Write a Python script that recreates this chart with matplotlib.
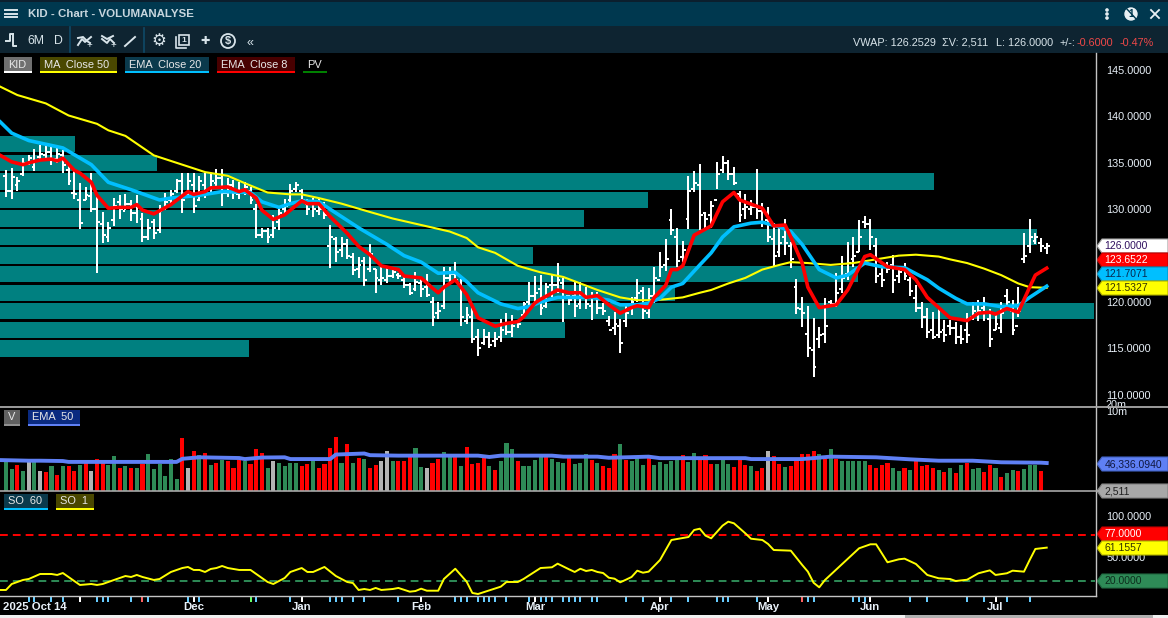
import numpy as np
import matplotlib
matplotlib.use("Agg")
import matplotlib.pyplot as plt
from matplotlib.patches import Rectangle, Polygon, Circle
from matplotlib.ticker import NullLocator, NullFormatter

plt.rcParams['font.family'] = ['Liberation Sans', 'DejaVu Sans']

W, H = 1168, 618

highs = [134.2,134.4,133.5,135.5,135.8,136.5,136.9,136.9,136.7,136.6,
136.4,134.8,134.2,132.8,132.4,133.9,131.8,129.7,128.6,131.2,
131.5,131.6,131.0,131.5,129.6,129.0,129.0,130.5,131.8,132.1,
133.3,133.9,133.9,133.9,133.6,133.9,133.9,134.3,134.3,133.4,
133.2,132.9,132.9,132.4,130.6,128.0,128.0,129.4,130.1,131.1,
132.7,132.9,132.2,131.1,131.2,131.2,130.8,128.3,127.0,127.0,
126.8,125.3,124.8,124.8,126.2,123.6,123.8,123.8,123.5,123.1,
122.8,122.0,123.2,122.6,123.0,120.5,120.0,123.8,123.8,124.3,
122.5,119.5,119.5,117.1,117.1,116.8,116.8,118.2,118.8,118.6,
118.1,120.0,122.2,122.8,122.9,122.0,122.9,124.2,122.6,120.8,
122.2,122.2,121.6,121.1,121.1,119.9,118.5,118.9,118.2,119.7,
120.5,122.5,121.6,121.5,123.8,125.4,126.8,130.0,128.0,126.6,
133.6,134.1,134.9,129.7,130.9,135.1,135.7,135.3,134.6,132.0,
131.6,131.0,134.3,130.7,130.2,128.5,128.1,129.0,126.5,122.5,
120.5,119.6,118.3,117.3,120.4,120.2,123.1,125.0,126.5,127.0,
128.8,129.3,128.9,126.9,123.7,124.3,125.1,123.8,124.2,122.7,
121.8,120.0,119.4,118.9,119.4,118.1,118.1,117.9,117.5,118.8,
120.0,120.2,120.5,119.2,118.8,120.0,121.4,120.2,121.6,127.4,
128.9,127.4,126.9,126.4]
lows = [131.3,131.1,132.0,133.6,134.8,134.1,135.3,135.5,134.8,135.0,
133.9,132.6,131.1,127.9,131.0,129.7,123.1,126.4,126.5,128.2,
129.0,129.9,128.7,128.5,126.5,126.7,126.8,127.4,129.9,130.5,
131.8,129.6,131.3,129.6,130.9,131.2,131.8,132.3,130.4,131.3,
131.1,131.1,131.5,130.6,126.9,126.9,126.4,126.9,127.8,129.6,
130.7,131.9,130.8,129.4,129.2,129.4,129.0,123.7,124.3,124.8,
124.6,122.9,122.6,121.7,123.2,121.0,121.8,122.0,122.6,122.5,
121.5,120.8,121.2,120.5,120.5,117.4,118.2,119.2,122.2,122.2,
117.4,117.6,115.6,114.2,115.4,115.0,115.2,115.7,116.5,116.2,
117.2,118.4,119.4,119.9,118.6,119.4,120.5,121.0,117.9,119.7,
118.4,119.3,119.2,118.1,118.7,118.6,117.4,116.5,114.5,117.3,
118.6,120.0,118.2,118.3,119.9,122.7,123.3,127.2,123.8,124.3,
127.9,131.9,127.8,127.8,128.0,132.2,133.9,133.2,132.6,128.6,
129.0,129.4,129.0,128.1,126.5,123.9,124.9,125.1,123.7,118.7,
117.3,114.1,111.9,115.0,115.6,119.5,119.5,121.0,122.4,123.8,
125.4,128.0,125.6,122.0,121.6,123.1,121.0,122.0,122.4,120.7,
118.9,117.2,116.1,116.0,116.1,115.7,116.5,115.5,115.5,115.6,
118.1,118.0,118.0,115.2,117.0,116.7,119.7,116.5,118.4,124.2,
125.3,126.2,125.4,125.2]
closes = [132.0,133.5,133.0,135.0,135.5,135.2,136.0,136.2,135.4,136.0,
134.8,133.0,131.6,128.5,131.5,130.0,128.6,127.2,128.0,130.4,
130.0,130.6,129.6,130.2,127.0,128.0,127.4,129.8,130.8,131.6,
133.0,131.0,133.0,130.4,133.0,132.0,133.0,133.4,131.8,132.6,
131.8,132.0,132.4,131.0,127.2,127.6,127.0,128.0,129.6,130.4,
132.0,132.6,131.0,130.0,130.0,130.0,129.4,127.0,125.4,126.2,
125.0,123.4,124.0,122.4,125.2,122.6,122.6,122.8,123.2,122.8,
121.8,121.0,122.2,121.4,120.8,118.4,119.0,122.6,123.0,122.4,
118.4,118.6,116.0,115.0,116.2,115.4,116.0,117.0,116.8,117.4,
117.6,119.8,120.6,121.0,119.4,121.6,121.8,122.4,120.4,120.2,
119.6,120.8,119.8,120.4,119.4,119.0,117.0,117.6,115.6,118.8,
120.0,121.0,119.0,120.6,122.6,123.8,124.6,127.8,124.4,125.6,
132.0,132.8,129.4,129.0,130.4,133.8,135.0,133.8,132.8,129.4,
130.2,130.2,129.8,128.6,127.0,125.0,126.4,126.4,124.6,119.4,
118.8,115.0,113.0,116.4,117.4,119.8,121.0,122.6,124.2,125.0,
127.0,128.4,127.0,122.8,122.4,123.6,122.4,123.2,122.8,121.2,
119.4,118.4,116.8,116.2,116.8,116.4,117.2,116.2,116.0,116.4,
119.0,119.0,118.8,116.0,117.6,118.8,120.0,117.0,119.0,125.0,
127.0,127.0,126.0,126.0]
opens = [133.6,132.0,132.6,133.8,135.0,134.6,135.6,135.8,136.2,135.4,
135.8,134.2,131.8,131.0,131.0,131.4,130.0,128.4,127.0,128.8,
130.8,129.8,130.6,129.6,129.0,127.0,128.6,127.8,130.0,131.0,
132.0,133.0,131.6,132.6,131.0,132.6,132.2,132.8,133.4,131.8,
132.6,131.6,132.0,132.0,130.0,127.2,127.6,127.2,128.6,130.0,
131.0,132.2,132.0,130.6,130.6,129.8,130.4,126.0,126.8,125.6,
126.2,124.8,123.6,124.4,123.6,123.6,122.4,122.4,122.8,122.9,
122.4,121.8,121.4,122.0,121.6,120.0,118.8,119.6,122.6,123.0,
121.8,118.0,118.4,116.2,115.6,116.2,115.8,116.2,117.6,116.8,
117.8,118.6,120.0,120.6,121.4,119.6,121.8,121.8,122.0,120.6,
120.6,119.8,120.8,119.6,120.4,119.4,118.0,117.2,117.4,118.0,
119.2,120.4,121.2,118.8,120.6,122.4,124.0,128.8,127.0,124.8,
129.0,132.2,132.6,129.6,129.4,131.0,134.2,135.0,133.8,131.6,
130.0,130.0,130.2,129.8,128.8,126.8,125.4,127.0,126.0,121.6,
119.2,116.6,114.8,116.0,116.6,120.0,119.8,121.4,123.0,124.6,
125.4,128.6,128.4,126.0,123.0,124.0,124.0,122.8,123.6,122.4,
120.4,119.4,118.4,117.0,116.4,117.0,117.4,117.2,116.2,117.0,
118.4,118.8,119.4,118.2,117.0,117.2,120.6,119.0,117.4,124.6,
126.0,126.6,126.4,125.8]

ma50_idx = [-1,2,7,11,16,18,21,26,30,35,39,42,46,50,52,55,59,64,68,73,78,81,83,86,90,94,98,101,104,108,111,114,116,119,122,124,127,130,133,136,138,141,145,149,152,157,160,164,166,169,172,175,178,180,183]
ma50_val = [143.2,142.3,141.4,140.1,139.2,138.5,137.9,135.8,135.0,134.0,133.6,132.8,131.8,131.6,131.6,131.2,130.6,129.7,129.0,128.3,127.6,126.9,125.9,125.3,123.9,123.2,122.7,122.0,121.3,120.5,120.2,120.2,120.3,120.5,121.0,121.3,122.0,122.6,123.5,124.0,124.3,124.2,124.0,124.2,124.5,125.0,125.1,124.9,124.6,124.2,123.6,122.9,122.0,121.6,121.5327]

ema20_idx = [-1,1,4,10,15,18,22,27,29,34,38,43,45,48,50,52,55,58,62,67,70,73,76,79,81,83,85,87,90,92,94,97,100,103,106,108,111,113,115,117,119,122,124,126,128,131,133,136,138,140,143,146,148,151,154,158,162,164,167,169,172,175,178,180,183]
ema20_val = [139.4,138.2,137.4,136.6,134.8,132.9,132.1,131.0,131.2,131.5,131.9,131.8,130.8,130.2,130.6,130.9,130.8,129.6,128.0,126.2,125.0,124.3,123.1,123.2,122.2,121.0,120.4,119.8,119.3,119.5,120.0,120.5,120.5,120.5,120.2,119.7,119.7,119.9,120.4,121.6,122.0,124.0,125.3,127.0,128.1,128.5,128.6,128.1,127.6,126.2,123.5,122.6,122.9,124.2,123.8,123.7,122.4,121.5,120.4,119.8,119.8,119.5,119.6,120.5,121.7071]

ema8_idx = [-1,1,3,4,6,8,9,10,12,13,15,16,18,20,22,23,24,26,29,32,33,35,36,39,41,42,44,45,47,49,52,53,55,57,60,62,64,66,69,70,73,75,76,77,79,81,83,86,88,90,91,93,94,97,99,101,102,104,106,108,110,111,113,114,116,117,118,119,121,124,126,128,129,133,135,137,138,140,141,143,146,148,150,151,152,155,158,160,162,164,166,169,171,173,174,176,178,180,181,183]
ema8_val = [135.8,135.1,134.8,135.0,135.3,135.4,135.2,135.5,134.2,133.9,132.9,131.5,130.1,130.2,130.2,130.5,129.9,129.5,130.5,131.9,131.6,131.9,132.3,132.4,131.9,132.1,131.2,129.9,128.9,129.4,130.9,130.6,130.6,129.2,127.4,126.0,125.1,123.9,123.5,122.8,122.6,121.5,121.0,121.6,122.4,120.8,118.3,117.4,117.7,117.9,118.4,119.9,120.3,121.3,121.0,121.0,120.5,120.7,119.7,118.8,119.4,119.6,119.4,120.5,121.8,123.5,123.5,123.9,127.2,128.2,130.8,131.8,131.0,130.1,128.2,128.3,127.0,124.2,121.6,119.4,119.7,121.3,123.7,124.9,125.1,123.8,123.5,122.4,120.5,119.4,118.3,118.0,118.8,118.9,118.7,119.3,118.9,121.6,122.9,123.6522]

pv_price = [137,135,133,131,129,127,125,123,121,119,117,115]
pv_volume = [75,157,934,648,584,1037,533,858,675,1094,565,249]

volume_k = [58,25,38,20,52,50,20,18,34,13,
34,34,20,38,63,20,70,50,38,96,
27,34,27,27,42,118,25,42,12,70,
9,620,27,162,107,130,38,48,63,60,
28,63,58,40,200,131,27,58,48,34,
48,48,34,44,58,28,40,220,690,48,
350,48,75,68,27,38,55,162,58,55,
57,87,220,30,28,46,70,145,95,85,
34,240,42,46,78,34,22,57,370,200,
57,34,34,62,85,85,70,50,46,78,
42,46,118,62,46,34,28,118,320,62,
57,78,37,78,37,50,42,57,78,105,
50,131,70,105,42,42,70,42,30,62,
37,34,20,28,162,95,42,30,34,62,118,
118,160,118,70,200,70,58,55,58,58,
55,38,28,38,46,28,20,27,22,55,
34,38,28,22,18,28,16,38,46,25,
27,18,38,28,11,16,22,20,25,38,
38,20,2.511]
volume_dir = ("ggrgagargr" "grrgrarrgg" "rgrgrggggg" "grargrgrgr" "rrgrrrgagg" "ggrrgrrrrg" "rgrgrraagr"
 "rrggarrggr" "grrrrgrggg" "rggggrgggr" "gggrgrrrgr" "gggrgggggr" "ggrrrgggrr" "rgrrarrgrrr"
 "rrgrgrgggg" "grrrrggrgr" "rrrgrgrgrg" "grrgrggrgg" "grr")

vol_ema_idx = [-1,4,6,10,11,30,31,34,41,42,45,49,50,57,58,63,64,69,83,85,87,96,98,104,106,113,115,130,131,140,145,153,159,164,170,175,182,183]
vol_ema_k = [63,59,59,57,52,52,72,84,78,70,82,84,70,70,112,125,105,100,100,87,100,100,90,90,80,90,77,77,70,70,90,84,68,59,59,50,48,46.336]

so_idx = [-1,0,1,3,4,6,8,9,10,12,13,15,16,17,19,21,22,23,24,26,27,29,31,32,33,34,35,36,37,38,39,41,43,44,46,47,49,50,52,53,54,56,58,60,61,62,63,64,65,66,68,69,71,72,73,74,76,77,79,81,82,83,87,88,90,91,93,94,96,97,99,100,101,102,103,104,105,106,107,108,109,110,111,112,113,115,117,120,121,122,123,124,126,127,128,130,131,133,134,135,138,140,141,142,143,144,150,152,153,155,157,158,160,162,164,166,167,169,171,173,174,176,177,179,180,181,183]
so_val = [8.7,8.7,16.1,21.1,22.3,28.5,28.5,27.3,29.7,19.8,14.9,16.1,14.9,16.1,21.1,26,24.8,27.3,24.8,21.1,22.3,31,35.9,37.2,33.5,33.5,31,34.7,35.9,38.4,35.9,33.5,33.5,28.5,18.6,16.1,23.5,31,35.9,31,31,37.2,26,18.6,17.3,8.7,9.9,8.7,11.2,8.7,9.9,11.2,6.6,7.4,10.3,7.8,7.8,22.3,35,19,5,3.7,12.8,18.6,18.6,22.3,31.4,35.9,36.8,41.3,34.3,31,35,32.2,33.5,31,29.7,23.9,22.7,18.2,21.4,24.8,32.6,30.1,31.4,45.8,70.6,74.3,83,84.6,76,72.7,88.4,93.3,91.3,78.9,72.2,70.6,65.7,58.2,57.4,39.7,31.4,17.7,12,21,60.3,65.3,65.3,43,46.7,47.5,40.9,27.3,23.2,22.3,19.8,21.4,29.4,33,27.3,29.4,32.6,31.4,45.8,59.5,61.1557]

month_idx = [5.1,33,52,73,93,115,134,152,174]
month_labels = ['2025 Oct 14','Dec','Jan','Feb','Mar','Apr','May','Jun','Jul']
blue_events = [4,5,8,10,16,17,18,22,25,32,34,44,50,57,58,59,61,63,69,79,80,81,83,84,85,86,88,92,93,94,95,96,98,99,100,101,103,104,109,112,117,120,125,126,127,132,134,141,142,149,150,151,159,162,169,172,176,180]
white_events = [13,33,52,73,93,115,134,152,174]
red_events = [24,140]
green_events = [43]

price_ticks = [145,140,135,130,125,120,115,110]
so_ticks = [100,50]
so_upper, so_lower = 77, 20

fig = plt.figure(figsize=(W/100, H/100), dpi=100, facecolor='black')

def px_axes(x0, y0, x1, y1, **kw):
    return fig.add_axes([x0/W, 1-y1/H, (x1-x0)/W, (y1-y0)/H], **kw)

XLIM = (-1.055, 191.49)
TXT = '#e8f0f8'
TS = 7.8

# volume profile (behind the price bars)
ax_pv = px_axes(0, 53, 1095, 406, facecolor='black')
ax_pv.set_xlim(0, 1095)
ax_pv.set_ylim(108.8, 146.83)
ax_pv.barh(pv_price, pv_volume, height=1.76, color='#008080', linewidth=0)
ax_pv.axis('off')

ax = px_axes(0, 53, 1095, 406)
ax.patch.set_alpha(0)
ax.set_xlim(*XLIM)
ax.set_ylim(108.8, 146.83)
x = np.arange(len(highs))
ax.vlines(x, lows, highs, color='white', lw=1.44, zorder=3, antialiased=False)
ax.hlines(opens, x-0.5, x, color='white', lw=1.44, zorder=3, antialiased=False)
ax.hlines(closes, x, x+0.5, color='white', lw=1.44, zorder=3, antialiased=False)
ax.plot(ma50_idx, ma50_val, color='#ffff00', lw=1.5, zorder=4, solid_joinstyle='round')
ax.plot(ema20_idx, ema20_val, color='#00bfff', lw=2.6, zorder=5, solid_joinstyle='round')
ax.plot(ema8_idx, ema8_val, color='#ff0000', lw=2.6, zorder=6, solid_joinstyle='round')
ax.set_yticks(price_ticks)
ax.set_yticklabels(['%.4f' % v for v in price_ticks])
ax.set_xticks([])
ax.yaxis.tick_right()
ax.tick_params(axis='y', length=0, pad=8, labelcolor=TXT, labelsize=TS)
for s in ax.spines.values():
    s.set_visible(False)

# volume panel (log scale)
ax_v = px_axes(0, 407, 1095, 491, facecolor='black')
ax_v.set_yscale('log')
ax_v.set_xlim(*XLIM)
ax_v.set_ylim(2511, 1.588e7)
vol = np.array(volume_k)*1000
vcol = {'r': '#ff0000', 'g': '#2e8b57', 'a': '#b4b4b4'}
ax_v.bar(x, vol-2511, bottom=2511, width=0.72, color=[vcol[c] for c in volume_dir], linewidth=0, antialiased=False)
ax_v.plot(vol_ema_idx, np.array(vol_ema_k)*1000, color='#5f80f5', lw=2.8, zorder=5)
ax_v.yaxis.tick_right()
ax_v.set_yticks([1e7])
ax_v.set_yticklabels(['10m'])
ax_v.yaxis.set_minor_locator(NullLocator())
ax_v.yaxis.set_minor_formatter(NullFormatter())
ax_v.set_xticks([])
ax_v.tick_params(axis='y', length=0, pad=8, labelcolor=TXT, labelsize=TS)
ax_v.text(1106/1095, 2e7, '20m', transform=ax_v.get_yaxis_transform(), color=TXT, fontsize=TS,
          va='center', ha='left', clip_on=False)
for s in ax_v.spines.values():
    s.set_visible(False)

# stochastic panel
ax_s = px_axes(0, 491, 1095, 596, facecolor='black')
ax_s.set_xlim(*XLIM)
ax_s.set_ylim(1.24, 131.3)
ax_s.plot(so_idx, so_val, color='#ffff00', lw=1.4, zorder=5)
ax_s.plot(XLIM, [so_upper, so_upper], color='#ff0000', lw=1.4, ls=(0, (4, 2.6)))
ax_s.plot(XLIM, [so_lower, so_lower], color='#2e8b57', lw=1.4, ls=(0, (4, 2.6)))
ax_s.yaxis.tick_right()
ax_s.set_yticks(so_ticks)
ax_s.set_yticklabels(['%.4f' % v for v in so_ticks])
ax_s.set_xticks([])
ax_s.tick_params(axis='y', length=0, pad=8, labelcolor=TXT, labelsize=TS)
for s in ax_s.spines.values():
    s.set_visible(False)

# time axis
ax_t = px_axes(0, 597, 1095, 615, facecolor='black')
ax_t.set_xlim(*XLIM)
ax_t.set_ylim(18, 0)
ax_t.vlines(blue_events, 0, 5, color='#66ccff', lw=1.4, antialiased=False)
ax_t.vlines(white_events, 0, 5, color='white', lw=1.4, antialiased=False)
ax_t.vlines(red_events, 0, 5, color='#ff6060', lw=1.4, antialiased=False)
ax_t.vlines(green_events, 0, 5, color='#66ff66', lw=1.4, antialiased=False)
ax_t.set_yticks([])
ax_t.set_xticks(month_idx)
ax_t.set_xticklabels(month_labels, fontweight='bold', fontsize=8.2, color=TXT)
ax_t.tick_params(axis='x', length=0, pad=-9.4)
for s in ax_t.spines.values():
    s.set_visible(False)

# application chrome, drawn in pixel coordinates
c = fig.add_axes([0, 0, 1, 1])
c.set_xlim(0, W); c.set_ylim(H, 0); c.axis('off'); c.patch.set_alpha(0)

def rect(x0, y0, x1, y1, col, **kw):
    c.add_patch(Rectangle((x0, y0), x1-x0, y1-y0, facecolor=col, edgecolor='none', **kw))

rect(0, 0, W, 2, '#0b1f2e')
rect(0, 2, W, 26, '#00384f')
rect(0, 26, W, 53, '#0e2431')
rect(0, 615, W, 618, '#f0f0f0')
rect(905, 615, 1153, 618, '#b0b0b0')

for yy in (10, 14, 17):
    c.plot([5, 17], [yy, yy], color='#d8e4ea', lw=1.4)
c.text(28, 14, 'KID - Chart - VOLUMANALYSE', color='#c8d6de', fontsize=8.25, fontweight='bold', va='center')

# toolbar
ic = '#d8e4ea'
c.plot([70, 70], [27, 52], color='#0f4a68', lw=1.2)
c.plot([144, 144], [28, 52], color='#0f4a68', lw=1.2)
c.plot([6, 10, 10, 13], [41, 41, 34, 34], color=ic, lw=1.4)
c.plot([13, 13, 16], [34, 46, 46], color=ic, lw=1.4)
c.text(27, 41.5, '6M', color=ic, fontsize=8.8, va='center')
c.text(54, 41.5, 'D', color=ic, fontsize=8.8, va='center')
c.plot([78, 82, 85, 91], [45, 39, 42, 37], color=ic, lw=1.4)
c.plot([78, 83, 87, 90], [38, 37, 41, 43], color=ic, lw=1.4)
c.text(89, 45, '+', color=ic, fontsize=7, va='center', ha='center')
c.plot([102, 107, 110, 114], [39, 43, 39, 43], color=ic, lw=1.4)
c.plot([102, 107, 113], [36, 39, 36], color=ic, lw=1.4)
c.text(113, 45, '+', color=ic, fontsize=7, va='center', ha='center')
c.plot([125, 135], [46, 37], color=ic, lw=1.4)
c.text(159, 41, '\u2699', color=ic, fontsize=12, va='center', ha='center', family='DejaVu Sans')
c.add_patch(Rectangle((179, 35), 10, 10, fill=False, ec=ic, lw=1.2))
c.plot([176, 176, 186], [37, 48, 48], color=ic, lw=1.2)
c.text(184, 40, '1', color=ic, fontsize=6, va='center', ha='center', fontweight='bold')
c.text(205, 41, '\u271a', color=ic, fontsize=8, va='center', ha='center', family='DejaVu Sans')
c.add_patch(Circle((228, 41), 7, fill=False, ec=ic, lw=1.3))
c.text(228, 41, '$', color=ic, fontsize=8, va='center', ha='center', fontweight='bold')
c.text(250, 43, '\u00ab', color=ic, fontsize=9, va='center', ha='center')

# window buttons
for yy in (10, 14, 18):
    c.add_patch(Circle((1107, yy), 1.1, color='#e8f0f4'))
c.add_patch(Circle((1131, 14), 6, color='#e8f0f4'))
c.text(1131, 14, '1', color='#00384f', fontsize=7, va='center', ha='center', fontweight='bold')
c.plot([1126, 1138], [8, 21], color='#00384f', lw=1)
c.plot([1151, 1159], [10, 18], color='#e8f0f4', lw=1.3)
c.plot([1159, 1151], [10, 18], color='#e8f0f4', lw=1.3)

# quote strip
for xp, s, col in [(853, 'VWAP: 126.2529', ic), (942, '\u03a3V: 2,511', ic), (996, 'L: 126.0000', ic),
                   (1059, '+/-:', ic), (1077, '-0.6000', '#f04848'), (1120, '-0.47%', '#f04848')]:
    c.text(xp, 45.5, s, color=col, fontsize=7.8, va='baseline')

# frame lines
c.plot([1095.5, 1095.5], [53, 596], color='#c4c4c4', lw=1)
c.plot([0, W], [406.5, 406.5], color='#a8a8a8', lw=1.3)
c.plot([0, 1100], [491, 491], color='#a8a8a8', lw=1.2)
c.plot([0, 1095.5], [595.8, 595.8], color='#c4c4c4', lw=1)

# legend chips
def chip(x0, x1, y0, bg, under, txt, tc='#e8e8e8', tx=None):
    if bg:
        rect(x0, y0, x1, y0+15, bg)
    rect(x0, y0+14.4, x1, y0+16.2, under)
    c.text(tx if tx else x0+4, y0+7.5, txt, color=tc, fontsize=7.9, va='center')

chip(4, 32, 57, '#707070', 'white', 'KID', tx=8)
chip(40, 117, 57, '#4a4800', '#ffff00', 'MA  Close 50', tx=44)
chip(125, 209, 57, '#0b3a4c', '#00bfff', 'EMA  Close 20', tx=129)
chip(217, 295, 57, '#480000', '#ff0000', 'EMA  Close 8', tx=221)
chip(303, 327, 57, None, '#008000', 'PV', tx=307)
chip(4, 20, 410, '#606060', '#909090', 'V', tx=8)
chip(28, 80, 410, '#0a2a80', '#5f80f5', 'EMA  50', tx=32)
chip(4, 48, 494, '#0b3a4c', '#00bfff', 'SO  60', tx=8)
chip(56, 94, 494, '#4a4800', '#ffff00', 'SO  1', tx=60)

# value flags
def flag(yc, bg, txt, tc, edge):
    h = 7
    c.add_patch(Polygon([(1097, yc), (1102, yc-h), (W, yc-h), (W, yc+h), (1102, yc+h)],
                        closed=True, facecolor=bg, edgecolor=edge, lw=0.8))
    c.text(1104.5, yc+0.3, txt, color=tc, fontsize=7.5, va='center')

flag(246, 'white', '%.4f' % closes[-1], '#301060', '#a0a0a0')
flag(260, '#ff0000', '%.4f' % ema8_val[-1], 'white', '#c00000')
flag(274, '#00bfff', '%.4f' % ema20_val[-1], '#062850', '#0090c0')
flag(288, '#ffff00', '%.4f' % ma50_val[-1], '#303000', '#b0b000')
flag(464, '#5f80f5', '46,336.0940', '#101840', '#4060c0')
flag(491, '#a8a8a8', '2,511', '#202020', '#808080')
flag(534, '#ff0000', '%.4f' % so_upper, 'white', '#c00000')
flag(548, '#ffff00', '%.4f' % so_val[-1], '#303000', '#b0b000')
flag(581, '#2e8b57', '%.4f' % so_lower, '#0c2c1c', '#206840')

fig.savefig('out.png', dpi=100, facecolor='black')
